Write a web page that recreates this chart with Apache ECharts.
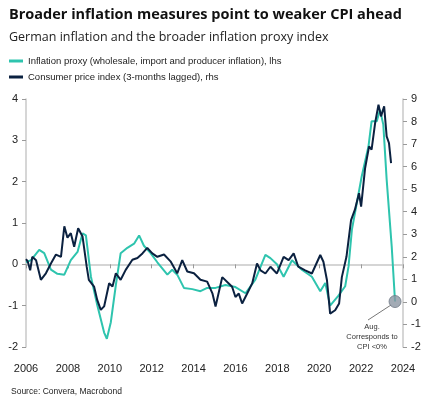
<!DOCTYPE html>
<html><head><meta charset="utf-8">
<script src="https://cdn.jsdelivr.net/npm/echarts@6/dist/echarts.min.js"></script>
<style>html,body{margin:0;padding:0;background:#fff}#c{width:430px;height:402px}</style>
</head><body><div id="c"></div>
<script>
var proxyYears=[2006.0,2006.24,2006.63,2006.87,2007.19,2007.5,2007.83,2008.14,2008.46,2008.7,2008.86,2009.1,2009.41,2009.73,2009.86,2010.05,2010.29,2010.52,2010.84,2011.16,2011.4,2011.63,2011.95,2012.27,2012.75,2012.98,2013.22,2013.54,2013.94,2014.33,2014.65,2015.05,2015.52,2016.0,2016.48,2016.95,2017.43,2017.67,2017.98,2018.3,2018.7,2019.17,2019.65,2020.05,2020.29,2020.52,2020.9,2021.24,2021.4,2021.56,2022.03,2022.35,2022.5,2022.75,2022.9,2023.06,2023.22,2023.46,2023.62];
var proxyValues=[0.05,0.1,0.35,0.27,-0.13,-0.23,-0.25,0.1,0.3,0.75,0.7,-0.3,-1.0,-1.65,-1.8,-1.4,-0.5,0.27,0.4,0.5,0.7,0.45,0.27,0.05,-0.25,-0.13,-0.25,-0.57,-0.6,-0.65,-0.57,-0.57,-0.5,-0.55,-0.7,-0.37,0.23,0.15,0.0,-0.3,0.1,-0.13,-0.3,-0.65,-0.45,-1.0,-0.77,-0.53,-0.05,0.84,2.13,2.85,3.46,3.46,3.74,3.38,2.05,0.44,-0.9];
var cpiYears=[2006.0,2006.08,2006.2,2006.3,2006.48,2006.71,2006.95,2007.19,2007.43,2007.67,2007.83,2007.98,2008.14,2008.3,2008.49,2008.7,2008.9,2009.0,2009.25,2009.4,2009.57,2009.73,2009.97,2010.13,2010.29,2010.52,2010.76,2011.08,2011.32,2011.56,2011.79,2012.03,2012.27,2012.59,2012.9,2013.22,2013.46,2013.7,2014.02,2014.33,2014.65,2014.9,2015.05,2015.37,2015.68,2015.84,2016.0,2016.16,2016.32,2016.56,2016.8,2017.03,2017.2,2017.43,2017.67,2017.98,2018.3,2018.54,2018.78,2019.0,2019.33,2019.65,2020.05,2020.2,2020.37,2020.52,2020.76,2020.95,2021.08,2021.3,2021.52,2021.7,2021.9,2022.0,2022.19,2022.38,2022.5,2022.67,2022.83,2022.95,2023.1,2023.22,2023.33,2023.43];
var cpiValues=[1.9,1.8,1.4,2.0,1.85,0.98,1.27,1.7,2.1,2.0,3.35,2.85,3.05,2.45,3.27,2.9,1.55,0.98,0.68,0.09,-0.35,-0.2,0.83,0.68,1.27,0.98,1.42,1.87,1.95,2.15,2.4,2.15,2.0,2.1,1.8,1.27,1.85,1.35,1.27,0.98,0.9,0.38,-0.2,1.1,0.82,0.67,0.22,0.37,-0.07,0.37,0.82,1.7,1.4,1.26,1.56,1.26,2.0,1.85,2.15,1.56,1.4,1.26,2.08,1.78,0.96,-0.52,-0.37,-0.07,1.1,2.0,3.63,4.08,4.82,4.23,5.93,6.9,6.75,7.94,8.75,8.23,8.68,7.34,7.05,6.16];
var xTicks=[2006,2008,2010,2012,2014,2016,2018,2020,2022,2024];
var leftTicks=[-2,-1,0,1,2,3,4];
var rightTicks=[-2,-1,0,1,2,3,4,5,6,7,8,9];
var zip=function(a,b){return a.map(function(v,i){return [v,b[i]];});};
var teal='#2ec4ae', navy='#0b2140';
var ch=echarts.init(document.getElementById('c'));
var axisCommon={axisLine:{show:true,lineStyle:{color:'#c8c8c8',width:1.5}},axisTick:{show:true,length:4,lineStyle:{color:'#999'}},splitLine:{show:false},axisLabel:{color:'#222',fontSize:11,fontFamily:'Liberation Sans'}};
ch.setOption({
 animation:false,
 title:[{text:'Broader inflation measures point to weaker CPI ahead',left:4,top:2,textStyle:{fontSize:14.5,fontWeight:'bold',color:'#111',fontFamily:'Open Sans'}},
        {text:'German inflation and the broader inflation proxy index',left:4,top:26,textStyle:{fontSize:12.5,fontWeight:'normal',color:'#222',fontFamily:'Open Sans'}},
        {text:'Source: Convera, Macrobond',left:6,top:382,textStyle:{fontSize:8.5,fontWeight:'normal',color:'#222',fontFamily:'Liberation Sans'}}],
 legend:{orient:'vertical',left:4,top:51,itemWidth:14,itemHeight:3,itemGap:6,icon:'rect',textStyle:{fontSize:9.5,color:'#222',fontFamily:'Liberation Sans'},
   data:['Inflation proxy (wholesale, import and producer inflation), lhs','Consumer price index (3-months lagged), rhs']},
 grid:{left:26,right:27,top:99,bottom:55},
 xAxis:Object.assign({},axisCommon,{type:'value',min:2006,max:2024,interval:2,offset:8,axisLabel:Object.assign({},axisCommon.axisLabel,{formatter:function(v){return xTicks.indexOf(v)>=0?String(v):'';}})}),
 yAxis:[Object.assign({},axisCommon,{type:'value',min:-2,max:4,interval:1,position:'left',axisLabel:Object.assign({},axisCommon.axisLabel,{formatter:function(v){return leftTicks.indexOf(v)>=0?String(v):'';}})}),
        Object.assign({},axisCommon,{type:'value',min:-2,max:9,interval:1,position:'right',axisLabel:Object.assign({},axisCommon.axisLabel,{formatter:function(v){return rightTicks.indexOf(v)>=0?String(v):'';}})})],
 series:[
  {name:'Inflation proxy (wholesale, import and producer inflation), lhs',type:'line',yAxisIndex:0,showSymbol:false,data:zip(proxyYears,proxyValues),lineStyle:{color:teal,width:2},itemStyle:{color:teal},z:2},
  {name:'Consumer price index (3-months lagged), rhs',type:'line',yAxisIndex:1,showSymbol:false,data:zip(cpiYears,cpiValues),lineStyle:{color:navy,width:2},itemStyle:{color:navy},z:3},
  {type:'scatter',yAxisIndex:0,data:[[proxyYears[proxyYears.length-1],proxyValues[proxyValues.length-1]]],symbolSize:12,itemStyle:{color:'#8c96a3',borderColor:'#6f7884',borderWidth:1},z:4}
 ],
 graphic:[
  {type:'line',shape:{x1:391,y1:305,x2:368,y2:320},style:{stroke:'#777',lineWidth:1}},
  {type:'text',x:372,y:322,style:{text:'Aug.\nCorresponds to\nCPI <0%',align:'center',verticalAlign:'top',fontSize:7.5,lineHeight:10,fill:'#333',fontFamily:'Liberation Sans'}}
 ]
});
</script></body></html>
